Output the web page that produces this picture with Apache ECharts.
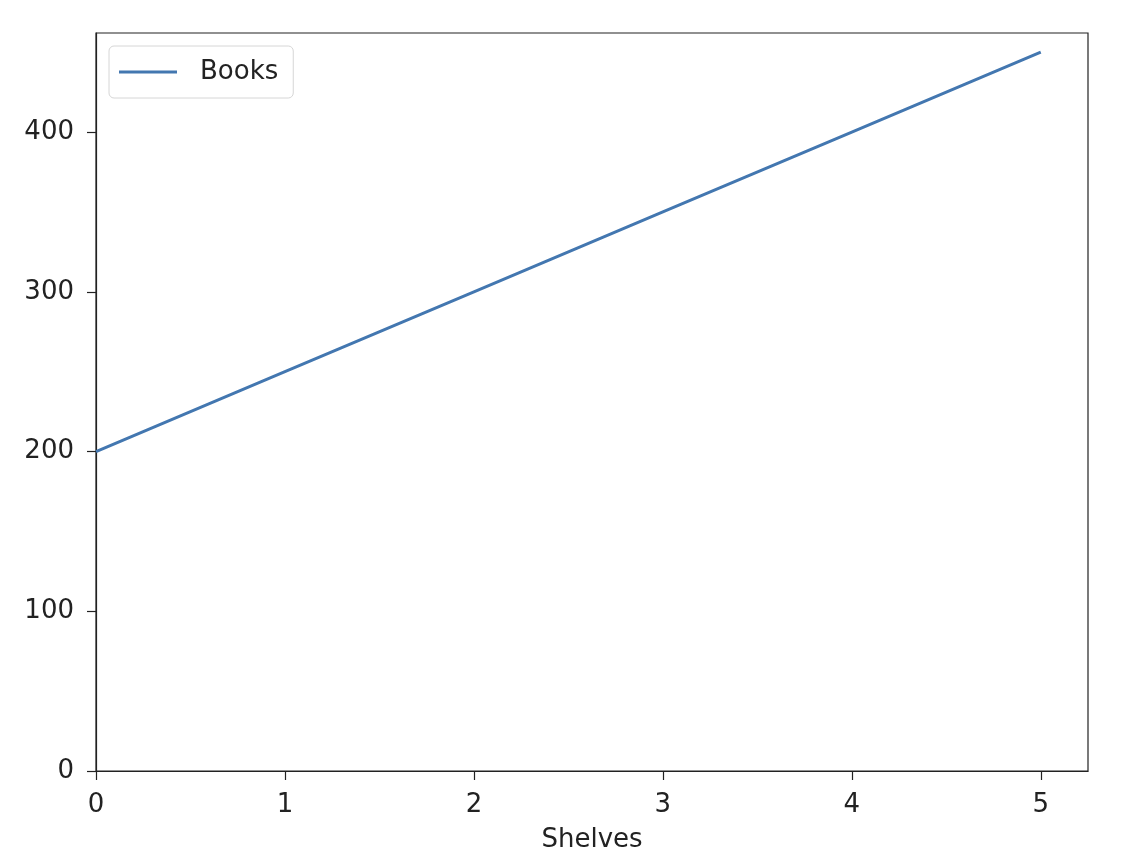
<!DOCTYPE html>
<html style="height:100%">
<meta charset="utf-8" />
<title>Books per shelf</title>
<script src="https://cdn.jsdelivr.net/npm/echarts@6/dist/echarts.min.js"></script>
<body style="height:100%;margin:0;background:white">
<div id="chartmain" style="width:1130px;height:866px;"></div>
<script type="text/javascript">
    // data
    var shelves = [0, 1, 2, 3, 4, 5];
    var books = [200, 250, 300, 350, 400, 450];
    var xTicks = [0, 1, 2, 3, 4, 5];
    var yTicks = [0, 100, 200, 300, 400];

    var FONT = 'DejaVu Sans';
    var INK = '#222';
    var FS = 26;

    var points = [];
    for (var i = 0; i < shelves.length; i++) {
        points.push([shelves[i], books[i]]);
    }

    var myChart = echarts.init(document.getElementById('chartmain'));
    var option = {
        backgroundColor: 'white',
        animation: false,
        textStyle: { fontFamily: FONT },
        grid: {
            left: 96,
            right: 42,
            top: 33,
            bottom: 95,
            show: true,
            borderColor: INK,
            borderWidth: 1.2,
            backgroundColor: 'transparent'
        },
        legend: {
            left: 109,
            top: 46,
            orient: 'vertical',
            icon: 'rect',
            itemWidth: 58,
            itemHeight: 3,
            padding: [13, 15, 13, 10],
            borderColor: '#d6d6d6',
            borderWidth: 1,
            borderRadius: 5,
            backgroundColor: 'rgba(255,255,255,0.8)',
            textStyle: { fontFamily: FONT, fontSize: FS, color: INK, padding: [0, 0, 0, 18] },
            data: ['Books']
        },
        xAxis: {
            type: 'value',
            min: 0,
            max: 5.25,
            interval: 1,
            name: 'Shelves',
            nameLocation: 'middle',
            nameGap: 56,
            nameTextStyle: { fontFamily: FONT, fontSize: FS, color: INK },
            axisLine: { show: true, lineStyle: { color: INK, width: 1.2 } },
            axisTick: { show: true, inside: false, length: 9, customValues: xTicks, lineStyle: { color: INK, width: 1.2 } },
            axisLabel: { margin: 21, fontFamily: FONT, fontSize: FS, color: INK, customValues: xTicks },
            splitLine: { show: false }
        },
        yAxis: {
            type: 'value',
            min: 0,
            max: 462,
            interval: 100,
            axisLine: { show: true, lineStyle: { color: INK, width: 1.2 } },
            axisTick: { show: true, inside: false, length: 9, customValues: yTicks, lineStyle: { color: INK, width: 1.2 } },
            axisLabel: { margin: 22, fontFamily: FONT, fontSize: FS, color: INK, customValues: yTicks },
            splitLine: { show: false }
        },
        series: [{
            name: 'Books',
            type: 'line',
            data: points,
            symbol: 'none',
            itemStyle: { color: '#4377b0' },
            lineStyle: { color: '#4377b0', width: 3 }
        }]
    };
    myChart.setOption(option);
</script>
</body>
</html>
